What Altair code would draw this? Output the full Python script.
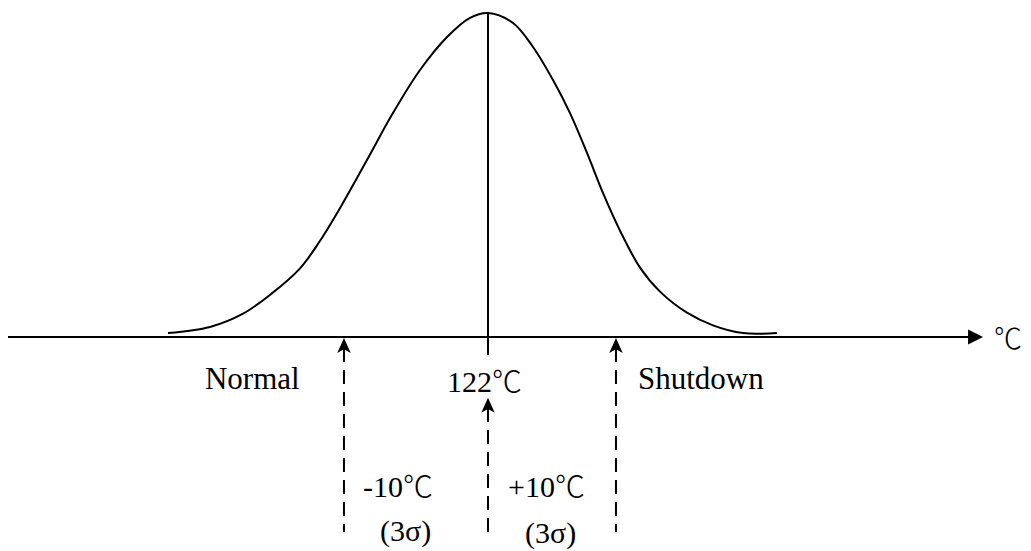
import altair as alt
import pandas as pd

# ---- values (x in degC, y = relative density, peak = 1) ----
curve_t = [98.47, 101.56, 103.99, 105.97, 108.18, 109.65, 111.34, 113.10, 115.01, 117.00,
           118.99, 120.68, 122.00, 123.84, 125.31, 126.78, 128.03, 129.28, 130.46, 131.71,
           133.18, 134.65, 136.63, 138.54, 140.75, 143.25]
curve_d = [0.012, 0.031, 0.072, 0.130, 0.212, 0.297, 0.414, 0.546, 0.691, 0.824,
           0.926, 0.985, 1.000, 0.969, 0.895, 0.793, 0.691, 0.568, 0.444, 0.328,
           0.214, 0.140, 0.075, 0.036, 0.012, 0.012]

mean_t = 122.0
marker_t = [111.41, 122.0, 131.41]          # -3 sigma, mean, +3 sigma arrows
marker_top = [-0.034, -0.219, -0.034]
marker_bottom = [-0.602, -0.605, -0.602]
head_y = [-0.026, -0.211, -0.026]

axis_start, axis_end, axis_tip = 86.7, 157.43, 157.85

big_labels = ["Normal", "Shutdown"]
big_x = [101.19, 133.03]
big_y = [-0.161, -0.161]

labels = ["122℃", "-10℃", "+10℃", "(3σ)", "(3σ)"]
label_x = [118.99, 112.81, 123.47, 114.06, 124.72]
label_y = [-0.170, -0.494, -0.494, -0.630, -0.636]

unit_label = ["℃"]
unit_x = [159.2]
unit_y = [-0.038]

X_DOMAIN = [86.706, 161.338]
Y_DOMAIN = [-0.6605, 1.0154]
W, H = 1015, 543
FONT = "'Liberation Serif', 'Noto Sans CJK TC', serif"

xs = alt.Scale(domain=X_DOMAIN, nice=False, zero=False)
ys = alt.Scale(domain=Y_DOMAIN, nice=False, zero=False)


def X(f):
    return alt.X(f, type="quantitative", scale=xs, axis=None)


def Y(f):
    return alt.Y(f, type="quantitative", scale=ys, axis=None)


curve_df = pd.DataFrame({"t": curve_t, "d": curve_d})
curve = alt.Chart(curve_df).mark_line(
    color="black", strokeWidth=2, interpolate="catmull-rom"
).encode(x=X("t"), y=Y("d"))

axis_df = pd.DataFrame({"x0": [axis_start], "x1": [axis_end], "y": [0.0]})
axis_line = alt.Chart(axis_df).mark_rule(color="black", strokeWidth=2.2).encode(
    x=X("x0"), x2="x1", y=Y("y")
)

head_df = pd.DataFrame({"x": [axis_tip], "y": [0.0]})
axis_head = alt.Chart(head_df).mark_point(
    shape="M1,0L-1,-1L-1,1Z", size=225, filled=True, color="black", opacity=1, strokeWidth=0
).encode(x=X("x"), y=Y("y"))

center_df = pd.DataFrame({"x": [mean_t], "y0": [1.0], "y1": [-0.0556]})
center_line = alt.Chart(center_df).mark_rule(color="black", strokeWidth=2).encode(
    x=X("x"), y=Y("y0"), y2="y1"
)

mk_df = pd.DataFrame({"x": marker_t, "top": marker_top, "bot": marker_bottom, "hy": head_y})
dashed = alt.Chart(mk_df).mark_rule(color="black", strokeWidth=2, strokeDash=[14, 8]).encode(
    x=X("x"), y=Y("top"), y2="bot"
)
up_heads = alt.Chart(mk_df).mark_point(
    shape="M0,-1L0.9,1L0,0.5L-0.9,1Z", size=225, filled=True, color="black", opacity=1, strokeWidth=0
).encode(x=X("x"), y=Y("hy"))

big_df = pd.DataFrame({"text": big_labels, "x": big_x, "y": big_y})
big_text = alt.Chart(big_df).mark_text(
    align="left", baseline="alphabetic", font=FONT, fontSize=31, color="black"
).encode(x=X("x"), y=Y("y"), text="text:N")

lab_df = pd.DataFrame({"text": labels, "x": label_x, "y": label_y})
lab_text = alt.Chart(lab_df).mark_text(
    align="left", baseline="alphabetic", font=FONT, fontSize=30, fontWeight=300, color="black"
).encode(x=X("x"), y=Y("y"), text="text:N")

unit_df = pd.DataFrame({"text": unit_label, "x": unit_x, "y": unit_y})
unit_text = alt.Chart(unit_df).mark_text(
    align="left", baseline="alphabetic", font=FONT, fontSize=28, fontWeight=300, color="black"
).encode(x=X("x"), y=Y("y"), text="text:N")

chart = alt.layer(
    curve, axis_line, axis_head, center_line, dashed, up_heads, big_text, lab_text, unit_text
).properties(
    width=W, height=H, padding=0, autosize=alt.AutoSizeParams(type="none"), background="white"
).configure_view(stroke=None)

chart.save("out.html", embed_options={"renderer": "svg", "actions": False})
